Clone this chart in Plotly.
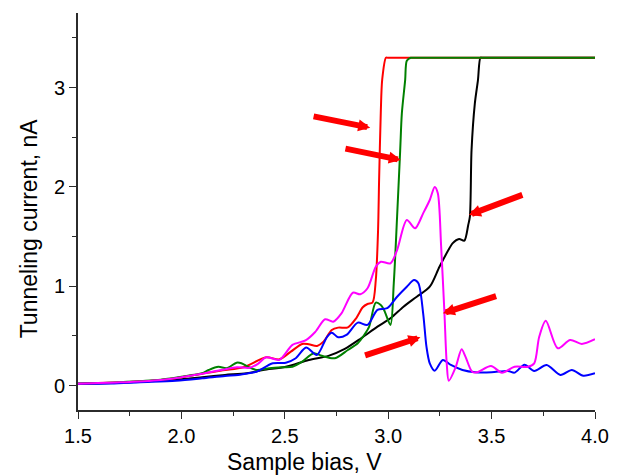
import plotly.graph_objects as go

# Tunneling current vs. sample bias for five tip positions
red_x = [1.5, 1.7, 1.9, 2.0, 2.1, 2.2, 2.3, 2.41, 2.474, 2.529, 2.584, 2.616, 2.656, 2.687,
         2.727, 2.758, 2.805, 2.845, 2.877, 2.90, 2.924, 2.940, 2.951, 2.956, 2.964, 2.971,
         2.989, 2.998, 3.2, 4.0]
red_y = [0.02, 0.033, 0.058, 0.085, 0.12, 0.155, 0.185, 0.285, 0.265, 0.342, 0.42, 0.416, 0.40,
         0.443, 0.56, 0.584, 0.587, 0.678, 0.789, 0.822, 0.835, 1.063, 1.566, 2.07, 2.74, 3.08,
         3.30, 3.30, 3.30, 3.30]

green_x = [1.5, 1.7, 1.9, 2.0, 2.1, 2.132, 2.179, 2.219, 2.267, 2.29, 2.322, 2.363, 2.426, 2.49,
           2.537, 2.584, 2.64, 2.679, 2.742, 2.805, 2.853, 2.884, 2.908, 2.940, 2.964, 2.98,
           3.011, 3.027, 3.043, 3.058, 3.066, 3.082, 3.09, 3.109, 3.12, 3.3, 4.0]
green_y = [0.02, 0.035, 0.06, 0.09, 0.125, 0.158, 0.19, 0.175, 0.231, 0.225, 0.19, 0.158, 0.175,
           0.185, 0.19, 0.241, 0.326, 0.30, 0.276, 0.359, 0.427, 0.51, 0.594, 0.835, 0.812, 0.762,
           0.611, 1.03, 1.70, 2.37, 2.74, 3.075, 3.27, 3.30, 3.30, 3.30, 3.30]

black_x = [1.5, 1.7, 1.9, 2.0, 2.1, 2.211, 2.316, 2.395, 2.505, 2.616, 2.711, 2.79, 2.869, 2.948,
           3.011, 3.074, 3.138, 3.201, 3.248, 3.296, 3.311, 3.343, 3.368, 3.387, 3.395, 3.403,
           3.419, 3.434, 3.446, 3.455, 3.6, 4.0]
black_y = [0.02, 0.03, 0.05, 0.065, 0.085, 0.108, 0.125, 0.158, 0.19, 0.259, 0.30, 0.37, 0.477,
           0.594, 0.678, 0.795, 0.895, 0.996, 1.197, 1.382, 1.432, 1.476, 1.459, 1.617, 1.70,
           2.37, 2.84, 3.075, 3.30, 3.30, 3.30, 3.30]

blue_x = [1.5, 1.658, 1.8, 1.974, 2.1, 2.211, 2.274, 2.338, 2.363, 2.442, 2.505, 2.553, 2.603,
          2.655, 2.703, 2.727, 2.758, 2.798, 2.853, 2.900, 2.948, 2.995, 3.043, 3.090, 3.125,
          3.146, 3.169, 3.185, 3.201, 3.225, 3.264, 3.303, 3.359, 3.422, 3.50, 3.58, 3.611,
          3.659, 3.706, 3.766, 3.833, 3.888, 3.943, 4.0]
blue_y = [0.02, 0.022, 0.035, 0.05, 0.074, 0.098, 0.108, 0.13, 0.14, 0.225, 0.231, 0.276, 0.383,
          0.309, 0.487, 0.533, 0.487, 0.51, 0.634, 0.611, 0.762, 0.779, 0.895, 0.996, 1.063,
          1.03, 0.728, 0.392, 0.225, 0.151, 0.259, 0.208, 0.158, 0.135, 0.135, 0.148, 0.131,
          0.21, 0.148, 0.208, 0.108, 0.158, 0.10, 0.125]

magenta_x = [1.5, 1.7, 1.9, 2.0, 2.1, 2.2, 2.268, 2.331, 2.37, 2.41, 2.474, 2.537, 2.60, 2.647,
             2.695, 2.734, 2.774, 2.829, 2.865, 2.900, 2.940, 2.964, 3.011, 3.043, 3.090, 3.130,
             3.169, 3.201, 3.225, 3.240, 3.256, 3.272, 3.283, 3.293, 3.327, 3.355, 3.374, 3.406,
             3.43, 3.497, 3.55, 3.611, 3.675, 3.706, 3.730, 3.762, 3.82, 3.88, 3.936, 4.0]
magenta_y = [0.02, 0.033, 0.058, 0.085, 0.12, 0.16, 0.185, 0.18, 0.22, 0.285, 0.26, 0.41, 0.455,
             0.54, 0.668, 0.644, 0.728, 0.935, 0.92, 0.98, 1.197, 1.247, 1.231, 1.365, 1.667,
             1.583, 1.734, 1.868, 2.0, 1.935, 1.40, 0.728, 0.225, 0.05, 0.19, 0.366, 0.29, 0.14,
             0.135, 0.198, 0.13, 0.19, 0.19, 0.225, 0.49, 0.654, 0.376, 0.46, 0.42, 0.467]

# Arrows marking the onset of each jump: (tail_x, tail_y, head_x, head_y)
arrows = [
    (2.632, 2.713, 2.913, 2.596),
    (2.786, 2.388, 3.061, 2.271),
    (3.656, 1.926, 3.390, 1.717),
    (3.529, 0.905, 3.264, 0.728),
    (2.881, 0.299, 3.156, 0.487),
]

series = [
    (black_x, black_y, "black"),
    (red_x, red_y, "#ff0000"),
    (green_x, green_y, "#008000"),
    (blue_x, blue_y, "#0000ff"),
    (magenta_x, magenta_y, "#ff00ff"),
]

FONT = "Liberation Sans, Arial, sans-serif"

fig = go.Figure()
for xs, ys, color in series:
    fig.add_trace(go.Scatter(
        x=xs, y=ys, mode="lines",
        line=dict(color=color, width=2, shape="spline", smoothing=0.8),
        showlegend=False, hoverinfo="skip",
    ))

for tx, ty, hx, hy in arrows:
    fig.add_annotation(
        x=hx, y=hy, ax=tx, ay=ty, xref="x", yref="y", axref="x", ayref="y",
        text="", showarrow=True, arrowhead=2, arrowsize=0.4, arrowwidth=6,
        arrowcolor="#ff0000",
    )

fig.add_annotation(
    text="Sample bias, V", x=2.593, y=0, xref="x", yref="paper",
    xanchor="center", yanchor="middle",
    yshift=-52, showarrow=False, font=dict(family=FONT, size=23, color="black"),
)
fig.add_annotation(
    text="Tunneling current, nA", x=0, y=1.583, xref="paper", yref="y",
    xanchor="center", yanchor="middle",
    xshift=-49, textangle=-90, showarrow=False,
    font=dict(family=FONT, size=23, color="black"),
)

axis_common = dict(
    showgrid=False, zeroline=False, showline=True, linecolor="#2b2b2b", linewidth=1.6,
    ticks="outside", ticklen=7, tickwidth=1.4, tickcolor="#2b2b2b",
    tickfont=dict(family=FONT, size=20, color="black"),
)

fig.update_xaxes(
    range=[1.5, 4.0], tick0=1.5, dtick=0.5, tickformat=".1f",
    minor=dict(ticks="outside", ticklen=4, tickwidth=1.4, tickcolor="#2b2b2b", dtick=0.25, tick0=1.5),
    **axis_common,
)
fig.update_yaxes(
    range=[-0.245, 3.75], tick0=0, dtick=1,
    minor=dict(ticks="outside", ticklen=4, tickwidth=1.4, tickcolor="#2b2b2b", dtick=0.5, tick0=0),
    **axis_common,
)

fig.update_layout(
    width=621, height=475,
    margin=dict(l=78, r=16, t=13, b=65),
    paper_bgcolor="white", plot_bgcolor="white",
    font=dict(family=FONT, color="black"),
)

fig.write_html("out.html")
